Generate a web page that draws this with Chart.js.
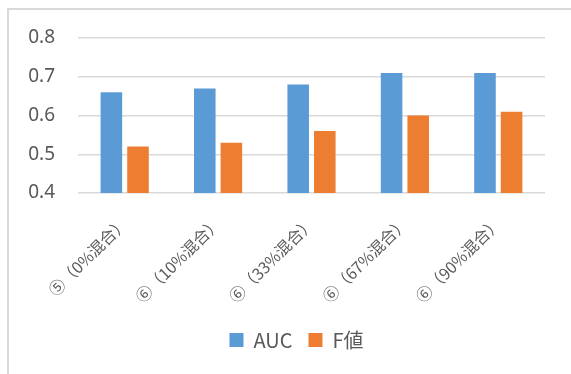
<!DOCTYPE html>
<html>
<head>
<meta charset="utf-8">
<script src="https://cdn.jsdelivr.net/npm/chart.js@4/dist/chart.umd.min.js"></script>
<style>
  html, body { margin: 0; padding: 0; background: #fff; }
  #frame {
    position: absolute; left: 7px; top: 8px; width: 564px; height: 366px;
    border-top: 2px solid #d9d9d9; border-left: 2px solid #d9d9d9;
  }
  #wrap { position: absolute; left: -9px; top: -10px; width: 571px; height: 374px; }
</style>
</head>
<body>
<div id="frame"><div id="wrap"><canvas id="chart"></canvas></div></div>
<script>
const categories = ['⑤（0%混合）', '⑥（10%混合）', '⑥（33%混合）', '⑥（67%混合）', '⑥（90%混合）'];
const aucValues = [0.66, 0.67, 0.68, 0.71, 0.71];
const fValues = [0.52, 0.53, 0.56, 0.60, 0.61];
const yTicks = [0.4, 0.5, 0.6, 0.7, 0.8];

const fontFamily = '"Noto Sans", "Noto Sans CJK JP", sans-serif';
const cjkFamily = '"Noto Sans CJK JP", "Noto Sans", sans-serif';

// nudge the legend a bit to the right, like the original
const legendShift = {
  id: 'legendShift',
  afterLayout(chart) {
    chart.legend.left += 24;
    chart.legend.right += 24;
  }
};

const ctx = document.getElementById('chart').getContext('2d');
new Chart(ctx, {
  type: 'bar',
  data: {
    labels: categories,
    datasets: [{
      label: 'AUC',
      data: aucValues,
      backgroundColor: '#5b9bd5',
      categoryPercentage: 0.57,
      barPercentage: 0.81
    }, {
      label: 'F値',
      data: fValues,
      backgroundColor: '#ed7d31',
      categoryPercentage: 0.57,
      barPercentage: 0.81
    }]
  },
  options: {
    responsive: true,
    maintainAspectRatio: false,
    animation: false,
    layout: { padding: { top: 38, right: 26, left: 0, bottom: 14 } },
    plugins: {
      tooltip: { enabled: false },
      legend: {
        position: 'bottom',
        labels: {
          color: '#595959',
          font: { family: cjkFamily, size: 20 },
          boxWidth: 14,
          boxHeight: 14,
          padding: 16
        }
      }
    },
    scales: {
      x: {
        grid: { display: false },
        border: { display: false },
        afterFit: axis => { axis.height = 121; },
        ticks: {
          color: '#595959',
          font: { family: cjkFamily, size: 16 },
          minRotation: 45,
          maxRotation: 45,
          padding: 12
        }
      },
      y: {
        min: 0.4,
        max: 0.8,
        afterBuildTicks: axis => { axis.ticks = yTicks.map(v => ({ value: v })); },
        afterFit: axis => { axis.width = 78; },
        grid: { color: '#d9d9d9', lineWidth: 1.5, drawTicks: false },
        border: { display: false },
        ticks: {
          color: '#595959',
          font: { family: fontFamily, size: 19 },
          padding: 23,
          callback: v => v.toFixed(1)
        }
      }
    }
  },
  plugins: [legendShift]
});
</script>
</body>
</html>
